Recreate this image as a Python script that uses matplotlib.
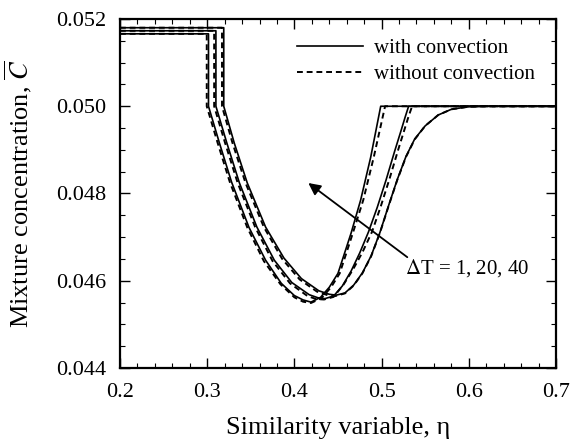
import matplotlib
matplotlib.use("Agg")
import matplotlib.pyplot as plt
from matplotlib.ticker import MultipleLocator, FormatStrFormatter

plt.rcParams['font.family'] = ['Liberation Serif', 'DejaVu Serif']
plt.rcParams['mathtext.fontset'] = 'stix'

# concentration profiles, one per temperature difference (dT = 40, 20, 1)
eta_40 = [0.20, 0.3015, 0.3015, 0.314, 0.328, 0.348, 0.367, 0.385, 0.400, 0.410, 0.419,
          0.430, 0.440, 0.450, 0.465, 0.476, 0.4875, 0.499, 0.70]
c_40 = [0.05166, 0.05166, 0.05000, 0.04916, 0.04826, 0.04722, 0.04647, 0.04594, 0.04566, 0.04556, 0.04551,
        0.04562, 0.04585, 0.04617, 0.04709, 0.04785, 0.04883, 0.05000, 0.05000]

eta_20 = [0.20, 0.310, 0.310, 0.3225, 0.337, 0.357, 0.377, 0.397, 0.417, 0.427, 0.435,
          0.445, 0.455, 0.465, 0.475, 0.485, 0.495, 0.505, 0.515, 0.522, 0.527, 0.531, 0.70]
c_20 = [0.05173, 0.05173, 0.05000, 0.04916, 0.04824, 0.04723, 0.04647, 0.04596, 0.04568, 0.04561, 0.04559,
        0.04565, 0.04588, 0.04622, 0.04664, 0.04712, 0.04768, 0.04830, 0.04897, 0.04942, 0.04975, 0.05000, 0.05000]

eta_1 = [0.20, 0.319, 0.319, 0.331, 0.346, 0.367, 0.388, 0.408, 0.428, 0.440, 0.448,
         0.458, 0.468, 0.478, 0.488, 0.498, 0.508, 0.518, 0.528, 0.538, 0.550, 0.565, 0.580, 0.600, 0.620, 0.70]
c_1 = [0.05180, 0.05180, 0.05000, 0.04916, 0.04824, 0.04723, 0.04652, 0.04605, 0.04577, 0.04569, 0.04567,
       0.04572, 0.04590, 0.04618, 0.04657, 0.04710, 0.04772, 0.04832, 0.04885, 0.04925, 0.04955, 0.04980,
       0.04993, 0.04999, 0.05000, 0.05000]

# same profiles without convection
eta_40_nc = [0.20, 0.2995, 0.2995, 0.312, 0.326, 0.346, 0.365, 0.384, 0.400, 0.410, 0.419,
             0.431, 0.442, 0.452, 0.467, 0.479, 0.491, 0.504, 0.70]
c_40_nc = [0.05166, 0.05166, 0.05000, 0.04916, 0.04826, 0.04722, 0.04645, 0.04592, 0.04562, 0.04552, 0.04549,
           0.04560, 0.04585, 0.04617, 0.04709, 0.04785, 0.04883, 0.05000, 0.05000]

eta_20_nc = [0.20, 0.308, 0.308, 0.3205, 0.335, 0.355, 0.375, 0.395, 0.415, 0.425, 0.434,
             0.445, 0.456, 0.467, 0.478, 0.489, 0.499, 0.509, 0.519, 0.526, 0.531, 0.535, 0.70]
c_20_nc = [0.05173, 0.05173, 0.05000, 0.04916, 0.04824, 0.04723, 0.04645, 0.04594, 0.04565, 0.04558, 0.04557,
           0.04563, 0.04590, 0.04625, 0.04665, 0.04712, 0.04770, 0.04833, 0.04900, 0.04945, 0.04977, 0.05000, 0.05000]

eta_1_nc = [0.20, 0.317, 0.317, 0.329, 0.344, 0.365, 0.386, 0.406, 0.426, 0.438, 0.447,
            0.458, 0.468, 0.478, 0.488, 0.498, 0.508, 0.518, 0.528, 0.538, 0.550, 0.565, 0.580, 0.600, 0.620, 0.70]
c_1_nc = [0.05180, 0.05180, 0.05000, 0.04916, 0.04824, 0.04723, 0.04650, 0.04603, 0.04575, 0.04567, 0.04565,
          0.04571, 0.04589, 0.04617, 0.04656, 0.04709, 0.04771, 0.04831, 0.04884, 0.04924, 0.04955, 0.04980,
          0.04993, 0.04999, 0.05000, 0.05000]

fig = plt.figure(figsize=(5.7, 4.46), dpi=100)
ax = fig.add_axes([0.2105, 0.1749, 0.7649, 0.7825])

dash = (0, (3, 2))
ax.plot(eta_40, c_40, color='black', lw=1.2, label='with convection')
ax.plot(eta_40_nc, c_40_nc, color='black', lw=1.4, ls=dash, label='without convection')
ax.plot(eta_20, c_20, color='black', lw=1.2)
ax.plot(eta_20_nc, c_20_nc, color='black', lw=1.4, ls=dash)
ax.plot(eta_1, c_1, color='black', lw=1.2)
ax.plot(eta_1_nc, c_1_nc, color='black', lw=1.4, ls=dash)

ax.annotate('', xy=(0.416, 0.04824), xytext=(0.5295, 0.04654),
            arrowprops=dict(arrowstyle='-|>', color='black', lw=1.3,
                            mutation_scale=18, shrinkA=0, shrinkB=0))
ax.text(0.527, 0.04629, r'$\Delta$T = 1, 20, 40', fontsize=15, va='center', ha='left')

ax.set_xlim(0.2, 0.7)
ax.set_ylim(0.044, 0.052)
ax.xaxis.set_major_locator(MultipleLocator(0.1))
ax.xaxis.set_minor_locator(MultipleLocator(0.02))
ax.yaxis.set_major_locator(MultipleLocator(0.002))
ax.yaxis.set_minor_locator(MultipleLocator(0.0005))
ax.xaxis.set_major_formatter(FormatStrFormatter('%.1f'))
ax.yaxis.set_major_formatter(FormatStrFormatter('%.3f'))
ax.tick_params(which='both', direction='in', top=True, right=True, labelsize=16)
ax.tick_params(which='major', length=7, width=1.0)
ax.tick_params(axis='x', which='major', pad=11)
ax.tick_params(axis='y', which='major', pad=10)
ax.tick_params(which='minor', length=3.5, width=0.8)
for s in ax.spines.values():
    s.set_linewidth(1.6)

ax.set_xlabel('Similarity variable, η', fontsize=19)
ax.set_ylabel(r'Mixture concentration, $\overline{C}$', fontsize=19)
ax.xaxis.set_label_coords(0.5, -0.14)
ax.yaxis.set_label_coords(-0.197, 0.5)

ax.legend(loc='upper right', bbox_to_anchor=(0.985, 0.985), frameon=False, fontsize=15,
          handlelength=3.2, handletextpad=0.5, labelspacing=0.3, borderaxespad=0.3)

fig.savefig('out.png', dpi=100)
